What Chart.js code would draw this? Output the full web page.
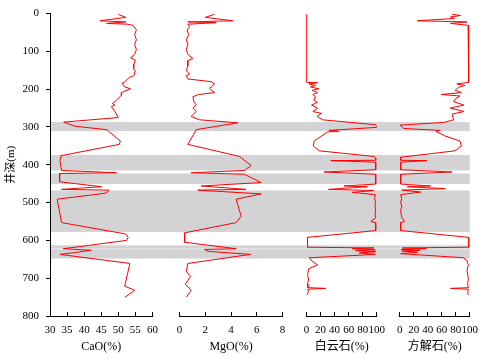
<!DOCTYPE html>
<html>
<head>
<meta charset="utf-8">
<script src="https://cdn.jsdelivr.net/npm/chart.js@4.4.1/dist/chart.umd.min.js"></script>
<style>
  html, body { margin: 0; padding: 0; background: #fff; }
  #wrap { position: relative; width: 490px; height: 358px; }
</style>
</head>
<body>
<div id="wrap"><canvas id="c"></canvas></div>
<script>
// depth in metres, value
const caoDepth = [2, 10, 19, 22, 26, 28, 31, 43, 56, 69, 82, 95, 108, 117, 123, 134, 147, 151, 164, 169, 182, 184, 194, 199, 205, 209, 216, 229, 238, 242, 246, 259, 275, 287, 298, 307, 337, 346, 376, 389, 415, 421, 423, 445, 458, 465, 467, 475, 491, 553, 583, 592, 600, 622, 626, 631, 637, 661, 721, 732, 751];
const caoValue = [50.0, 52.2, 44.6, 52.2, 46.6, 52.6, 54.3, 55.3, 54.8, 55.3, 54.8, 55.3, 54.8, 53.6, 55.0, 54.6, 54.5, 55.0, 54.6, 53.2, 51.7, 51.1, 51.9, 53.6, 51.9, 51.0, 50.9, 49.5, 48.3, 49.0, 48.0, 49.0, 50.0, 34.0, 37.3, 46.6, 50.6, 50.3, 33.2, 32.9, 33.4, 49.5, 32.9, 32.8, 45.1, 33.4, 47.3, 46.4, 32.1, 33.4, 52.2, 52.9, 52.4, 33.9, 42.0, 38.3, 32.9, 53.4, 51.9, 54.8, 51.9];

const mgoDepth = [2, 10, 19, 22, 24, 28, 35, 43, 56, 69, 82, 95, 108, 119, 125, 138, 151, 160, 164, 173, 180, 186, 198, 209, 214, 220, 233, 242, 250, 259, 272, 281, 289, 307, 346, 378, 402, 415, 421, 425, 447, 456, 465, 467, 477, 491, 536, 553, 580, 605, 622, 624, 629, 637, 661, 682, 695, 716, 732, 750];
const mgoValue = [2.71, 1.99, 4.13, 0.64, 2.84, 0.64, 0.77, 0.59, 0.70, 0.52, 0.64, 0.52, 0.64, 1.03, 0.60, 0.64, 0.52, 0.77, 0.52, 0.64, 2.45, 2.71, 2.32, 2.71, 1.47, 1.03, 1.10, 1.29, 1.03, 1.29, 0.90, 1.55, 4.52, 1.29, 0.64, 4.65, 5.55, 5.03, 0.90, 5.03, 6.33, 1.68, 5.16, 1.42, 6.33, 4.39, 4.78, 4.39, 0.39, 0.39, 4.39, 1.94, 2.19, 5.50, 0.64, 0.52, 0.85, 0.44, 0.90, 0.52];

const dolDepth = [2, 182, 183, 186, 190, 194, 199, 203, 209, 214, 220, 229, 235, 242, 250, 259, 264, 272, 281, 294, 301, 309, 311, 313, 337, 350, 363, 378, 382, 388, 389, 393, 413, 419, 425, 451, 456, 458, 465, 468, 473, 479, 490, 500, 510, 520, 530, 540, 550, 553, 574, 592, 618, 620, 622, 625, 627, 630, 633, 637, 646, 655, 665, 675, 690, 705, 715, 725, 727, 729, 735, 745];
const dolValue = [0, 0, 15.6, 3.3, 12.8, 5.7, 17.5, 8, 15.6, 9, 12.8, 10.4, 15.6, 7.1, 15.6, 9, 21.3, 15, 22.7, 98.6, 100, 32, 46, 30, 11, 9.5, 18, 96, 98.6, 98.6, 34.6, 98.6, 98.6, 25, 98.6, 98.6, 53.6, 86.6, 31.3, 96, 65, 98, 97, 98.6, 97.5, 98.6, 97.5, 98.6, 91.5, 98.6, 98.6, 1.4, 1.4, 96, 65, 98, 70, 98.6, 75, 98, 3.8, 8, 15.6, 3, 1.5, 3, 1, 2, 27.5, 1.5, 3, 0.5];

const calDepth = [2, 5, 9, 13, 19, 22, 26, 31, 36, 182, 186, 190, 195, 203, 209, 214, 218, 225, 233, 242, 250, 259, 266, 281, 288, 295, 304, 309, 312, 324, 337, 350, 363, 380, 388, 389, 393, 413, 419, 425, 451, 456, 458, 463, 467, 472, 479, 490, 500, 510, 520, 540, 550, 553, 574, 592, 618, 620, 622, 624, 626, 628, 631, 635, 646, 655, 665, 680, 700, 715, 725, 727, 729, 740, 745];
const calValue = [74.8, 86.8, 72.5, 78, 25, 96, 72.5, 97.6, 98.5, 98.5, 81.5, 93, 84, 79.2, 88, 59, 86, 80, 77, 91.6, 72.3, 91.6, 74.8, 77, 62.9, 0.4, 6, 58, 52, 65, 86, 88, 79, 1.4, 1.4, 39, 1.4, 1.4, 74.8, 1.4, 1.4, 44, 10.8, 65, 3, 30, 1.4, 3, 1.4, 3, 1.4, 3, 7, 1.4, 1.4, 98.6, 98.6, 3.8, 38, 2, 29, 3, 25, 1.4, 91.6, 96, 98, 96, 98, 97, 98, 72.5, 98, 97, 98.5];

// shaded intervals (m)
const bandTop = [287, 374, 423, 468, 613, 623.5];
const bandBottom = [311, 415, 451, 578, 622, 648];

const RED = 'rgb(255,0,0)';
const tickFont = { family: 'Liberation Serif', size: 11 };
const titleFont = { family: "'Liberation Serif', 'Noto Sans CJK SC'", size: 12 };

function pairs(depth, vals) {
  return depth.map((d, i) => ({ x: vals[i], y: d }));
}

function track(min, max, step, title, weight) {
  return {
    type: 'linear', position: 'bottom', stack: 'tracks', stackWeight: weight,
    min: min, max: max,
    ticks: { stepSize: step, autoSkip: false, maxRotation: 0, minRotation: 0, color: '#000', font: tickFont, padding: 12 },
    grid: { drawOnChartArea: false, tickLength: -4, color: '#000' },
    border: { color: '#000' },
    title: { display: true, text: title, color: '#000', font: titleFont, padding: { top: 0, bottom: 4 } },
    afterFit(s) { s.height = 42; }
  };
}
function gap(weight) {
  return {
    type: 'linear', position: 'bottom', stack: 'tracks', stackWeight: weight, min: 0, max: 1,
    ticks: { display: false }, grid: { display: false }, border: { display: false },
    afterFit(s) { s.height = 42; }
  };
}

const bands = {
  id: 'bands',
  beforeDraw(chart) {
    const { ctx, chartArea, scales } = chart;
    ctx.save();
    ctx.fillStyle = 'rgb(211,211,213)';
    bandTop.forEach((t, i) => {
      const y1 = scales.y.getPixelForValue(t);
      const y2 = scales.y.getPixelForValue(bandBottom[i]);
      ctx.fillRect(chartArea.left, y1, chartArea.right - chartArea.left, y2 - y1);
    });
    ctx.restore();
  }
};

const ds = (data, axis) => ({
  data: data, xAxisID: axis, yAxisID: 'y',
  borderColor: RED, borderWidth: 1, pointRadius: 0, fill: false, tension: 0
});

new Chart(document.getElementById('c'), {
  type: 'line',
  data: {
    datasets: [
      ds(pairs(caoDepth, caoValue), 'xCaO'),
      ds(pairs(mgoDepth, mgoValue), 'xMgO'),
      ds(pairs(dolDepth, dolValue), 'xDol'),
      ds(pairs(calDepth, calValue), 'xCal')
    ]
  },
  options: {
    indexAxis: 'y',
    responsive: true,
    maintainAspectRatio: false,
    animation: false,
    events: [],
    layout: { padding: { top: 0, right: 19, bottom: 0, left: 0 } },
    plugins: { legend: { display: false }, tooltip: { enabled: false } },
    scales: {
      y: {
        type: 'linear', position: 'left', reverse: true, min: 0, max: 800,
        ticks: { stepSize: 100, color: '#000', font: tickFont, padding: 7 },
        grid: { drawOnChartArea: false, tickLength: 4, color: '#000' },
        border: { color: '#000' },
        title: { display: true, text: '井深(m)', color: '#000', font: { family: "'Liberation Serif', 'Noto Sans CJK SC'", size: 11 }, padding: { top: 5, bottom: 0 } },
        afterFit(s) { s.width = 50; }
      },
      xCaO: track(30, 60, 5, 'CaO(%)', 102.7),
      g1: gap(27.3),
      xMgO: track(0, 8, 2, 'MgO(%)', 103.3),
      g2: gap(24),
      xDol: track(0, 100, 20, '白云石(%)', 70.4),
      g3: gap(23),
      xCal: track(0, 100, 20, '方解石(%)', 70.3)
    }
  },
  plugins: [bands]
});
</script>
</body>
</html>
